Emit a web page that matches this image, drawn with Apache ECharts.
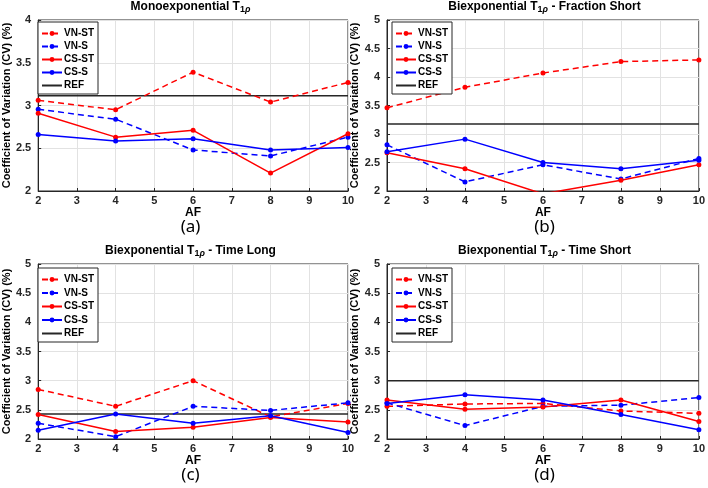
<!DOCTYPE html>
<html>
<head>
<meta charset="utf-8">
<script src="https://cdn.jsdelivr.net/npm/echarts@6/dist/echarts.min.js"></script>
<style>
html,body{margin:0;padding:0;background:#fff;}
#chart{width:708px;height:488px;}
</style>
</head>
<body>
<div id="chart"></div>
<script>
// ---------- data ----------
const afValues = [2, 4, 6, 8, 10];
const seriesNames = ['VN-ST', 'VN-S', 'CS-ST', 'CS-S', 'REF'];
const xTicks = [2, 3, 4, 5, 6, 7, 8, 9, 10];

// (a) Monoexponential T1rho
const monoVNST = [3.06, 2.95, 3.39, 3.04, 3.27];
const monoVNS  = [2.955, 2.84, 2.48, 2.41, 2.63];
const monoCSST = [2.91, 2.63, 2.71, 2.21, 2.67];
const monoCSS  = [2.66, 2.585, 2.61, 2.48, 2.51];
const monoREF  = 3.115;

// (b) Biexponential T1rho - Fraction Short
const fracVNST = [3.46, 3.82, 4.07, 4.27, 4.30];
const fracVNS  = [2.81, 2.16, 2.46, 2.21, 2.57];
const fracCSST = [2.67, 2.39, 1.95, 2.19, 2.46];
const fracCSS  = [2.69, 2.91, 2.50, 2.39, 2.54];
const fracREF  = 3.175;

// (c) Biexponential T1rho - Time Long
const longVNST = [2.85, 2.56, 3.00, 2.38, 2.61];
const longVNS  = [2.27, 2.04, 2.56, 2.49, 2.62];
const longCSST = [2.42, 2.13, 2.20, 2.37, 2.29];
const longCSS  = [2.15, 2.43, 2.27, 2.40, 2.11];
const longREF  = 2.43;

// (d) Biexponential T1rho - Time Short
const shortVNST = [2.56, 2.60, 2.61, 2.48, 2.44];
const shortVNS  = [2.62, 2.23, 2.56, 2.58, 2.71];
const shortCSST = [2.67, 2.51, 2.55, 2.67, 2.30];
const shortCSS  = [2.61, 2.76, 2.67, 2.42, 2.16];
const shortREF  = 3.0;

const panelTitles = [
  'Monoexponential T',
  'Biexponential T',
  'Biexponential T',
  'Biexponential T'
];
const panelTitleSuffix = ['', ' - Fraction Short', ' - Time Long', ' - Time Short'];
const panelLetters = ['(a)', '(b)', '(c)', '(d)'];
const yMax = [4, 5, 5, 5];
const xAxisTitle = 'AF';
const yAxisTitle = 'Coefficient of Variation (CV) (%)';

const panels = [
  [monoVNST, monoVNS, monoCSST, monoCSS, monoREF],
  [fracVNST, fracVNS, fracCSST, fracCSS, fracREF],
  [longVNST, longVNS, longCSST, longCSS, longREF],
  [shortVNST, shortVNS, shortCSST, shortCSS, shortREF]
];

// ---------- layout / style ----------
const FONT = 'Liberation Sans';
const AX = '#262626';
const grids = [
  {left: 33, top: 20, width: 315, height: 171},
  {left: 387, top: 20, width: 315, height: 171},
  {left: 33, top: 264, width: 315, height: 175},
  {left: 387, top: 264, width: 315, height: 175}
];
const seriesStyle = [
  {color: '#ff0000', type: [6, 4]},
  {color: '#0000ff', type: [6, 4]},
  {color: '#ff0000', type: 'solid'},
  {color: '#0000ff', type: 'solid'},
  {color: '#262626', type: 'solid'}
];

const chart = echarts.init(document.getElementById('chart'), null, {renderer: 'canvas'});

const option = {
  animation: false,
  backgroundColor: '#fff',
  grid: grids.map(g => Object.assign({show: true, borderColor: AX, borderWidth: 1, containLabel: false}, g)),
  title: grids.map((g, i) => ({
    text: '{t|' + panelTitles[i] + '}{s|1}{r|ρ}{t|' + panelTitleSuffix[i] + '}',
    left: g.left + g.width / 2,
    top: g.top - 19,
    textAlign: 'center',
    padding: 0,
    textStyle: {
      rich: {
        t: {fontFamily: FONT, fontWeight: 'bold', fontSize: 12, color: '#000', lineHeight: 13, verticalAlign: 'top'},
        s: {fontFamily: FONT, fontWeight: 'bold', fontSize: 9, color: '#000', lineHeight: 10, verticalAlign: 'bottom'},
        r: {fontFamily: FONT, fontStyle: 'italic', fontSize: 9, color: '#000', lineHeight: 10, verticalAlign: 'bottom'}
      }
    }
  })),
  legend: grids.map((g, i) => ({
    data: seriesNames.map((n, k) => k === 4 ? {name: n, itemStyle: {opacity: 0, borderWidth: 0}} : n),
    orient: 'vertical',
    left: g.left + 5,
    top: g.top + 2 + (i >= 2 ? 2 : 0),
    itemWidth: 20,
    itemHeight: 6,
    itemGap: i >= 2 ? 2.5 : 2,
    padding: [6, 4, 3, 3],
    borderColor: AX,
    borderWidth: 1,
    backgroundColor: '#fff',
    selectedMode: false,
    textStyle: {fontFamily: FONT, fontWeight: 'bold', fontSize: 10, color: '#000', lineHeight: 11, padding: [0, 0, 0, -3]}
  })),
  xAxis: grids.map((g, i) => ({
    type: 'value', gridIndex: i, min: xTicks[0], max: xTicks[xTicks.length - 1], interval: 1,
    name: xAxisTitle, nameLocation: 'middle', nameGap: 13,
    nameTextStyle: {fontFamily: FONT, fontWeight: 'bold', fontSize: 12, color: '#000'},
    axisLine: {show: true, lineStyle: {color: AX, width: 1}},
    axisTick: {show: true, inside: true, length: 3, lineStyle: {color: AX}},
    axisLabel: {fontFamily: FONT, fontWeight: 'bold', fontSize: 11, color: AX, margin: 4},
    splitLine: {show: true, lineStyle: {color: '#e2e2e2', width: 1}}
  })),
  yAxis: grids.map((g, i) => ({
    type: 'value', gridIndex: i, min: 2, max: yMax[i], interval: 0.5,
    name: yAxisTitle, nameLocation: 'middle', nameGap: 18, nameRotate: 90,
    nameTextStyle: {fontFamily: FONT, fontWeight: 'bold', fontSize: 11, color: '#000'},
    axisLine: {show: true, lineStyle: {color: AX, width: 1}},
    axisTick: {show: true, inside: true, length: 3, lineStyle: {color: AX}},
    axisLabel: {fontFamily: FONT, fontWeight: 'bold', fontSize: 11, color: AX, margin: 7},
    splitLine: {show: true, lineStyle: {color: '#e2e2e2', width: 1}}
  })),
  graphic: grids.map((g, i) => ({
    type: 'text',
    x: g.left + g.width / 2,
    y: g.top + g.height + 28,
    style: {text: panelLetters[i], fontFamily: 'Noto Sans', fontSize: 17, fill: '#000', textAlign: 'center', textVerticalAlign: 'top'}
  })),
  series: []
};

panels.forEach((p, i) => {
  for (let k = 0; k < 4; k++) {
    option.series.push({
      type: 'line', name: seriesNames[k], xAxisIndex: i, yAxisIndex: i,
      data: afValues.map((x, j) => [x, p[k][j]]),
      symbol: 'circle', symbolSize: 5, showSymbol: true, clip: true,
      lineStyle: {color: seriesStyle[k].color, width: 1.5, type: seriesStyle[k].type},
      itemStyle: {color: seriesStyle[k].color},
      z: 3
    });
  }
  option.series.push({
    type: 'line', name: seriesNames[4], xAxisIndex: i, yAxisIndex: i,
    data: [[afValues[0], p[4]], [afValues[afValues.length - 1], p[4]]],
    symbol: 'none', clip: true,
    lineStyle: {color: seriesStyle[4].color, width: 1.5, type: 'solid'},
    itemStyle: {color: seriesStyle[4].color},
    z: 2
  });
});

chart.setOption(option);
</script>
</body>
</html>
